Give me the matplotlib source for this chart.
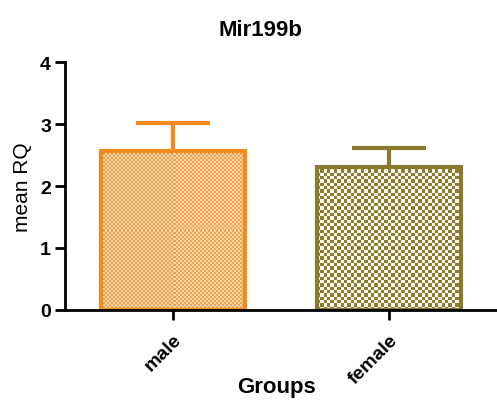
import numpy as np
import matplotlib
matplotlib.use("Agg")
import matplotlib.pyplot as plt

plt.rcParams['font.family'] = ['Liberation Sans', 'DejaVu Sans']

groups = ['male', 'female']
mean_rq = [2.56, 2.31]
sem = [0.45, 0.30]
edge_colors = ['#F28A1C', '#8A7A30']
dark_cells = ['#F0A050', '#8C7C36']
light_cells = ['#FAD9A6', '#FBF8EC']
cell_px = [2.0, 3.3]


def checker(ax, bar, dark, light, cell):
    # fill a bar with a checkerboard texture clipped to its outline
    x0, y0 = bar.get_x(), bar.get_y()
    w, h = bar.get_width(), bar.get_height()
    p0 = ax.transData.transform((x0, y0))
    p1 = ax.transData.transform((x0 + w, y0 + h))
    nx = max(int(abs(p1[0] - p0[0]) / cell), 1)
    ny = max(int(abs(p1[1] - p0[1]) / cell), 1)
    ii, jj = np.meshgrid(np.arange(nx), np.arange(ny))
    mask = (ii + jj) % 2 == 0
    img = np.where(mask[..., None],
                   np.array(matplotlib.colors.to_rgb(dark)),
                   np.array(matplotlib.colors.to_rgb(light)))
    im = ax.imshow(img, extent=(x0, x0 + w, y0, y0 + h), origin='lower',
                   interpolation='nearest', aspect='auto', zorder=1)
    im.set_clip_path(bar)


fig = plt.figure(figsize=(4.97, 4.02), dpi=100)
ax = fig.add_axes([65 / 497, 91 / 402, 432 / 497, 248 / 402])

x = np.arange(len(groups))
bars = ax.bar(x, mean_rq, width=0.67, facecolor='none', zorder=2)
ax.set_xlim(-0.5, 1.5)
ax.set_ylim(0, 4)

for i, b in enumerate(bars):
    checker(ax, b, dark_cells[i], light_cells[i], cell_px[i])
    b.set_edgecolor(edge_colors[i])
    b.set_linewidth(3)
    ax.errorbar(x[i], mean_rq[i] + sem[i] / 2, yerr=sem[i] / 2, fmt='none',
                ecolor=edge_colors[i], elinewidth=3, capsize=0, zorder=0)
    ax.hlines(mean_rq[i] + sem[i], x[i] - 0.17, x[i] + 0.17,
              color=edge_colors[i], linewidth=3, zorder=0)

ax.spines['top'].set_visible(False)
ax.spines['right'].set_visible(False)
ax.spines['left'].set_linewidth(2)
ax.spines['bottom'].set_linewidth(2)
ax.spines['left'].set_zorder(5)
ax.spines['bottom'].set_zorder(5)

ax.set_yticks([0, 1, 2, 3, 4])
ax.set_xticks(x)
ax.set_xticklabels(groups, rotation=45, ha='right', rotation_mode='anchor',
                   fontsize=14, fontweight='bold')
ax.tick_params(axis='both', direction='out', length=7, width=2, pad=3)
ax.tick_params(axis='x', pad=8)
ax.tick_params(axis='y', labelsize=14)
for lbl in ax.get_yticklabels():
    lbl.set_fontweight('bold')

ax.set_ylabel('mean RQ', fontsize=15, labelpad=6)
fig.text(277 / 497, 1 - 388 / 402, 'Groups', fontsize=16, fontweight='bold',
         ha='center', va='center')
fig.text(260 / 497, 1 - 30 / 402, 'Mir199b', fontsize=16, fontweight='bold',
         ha='center', va='center')

fig.savefig('out.png', dpi=100)
